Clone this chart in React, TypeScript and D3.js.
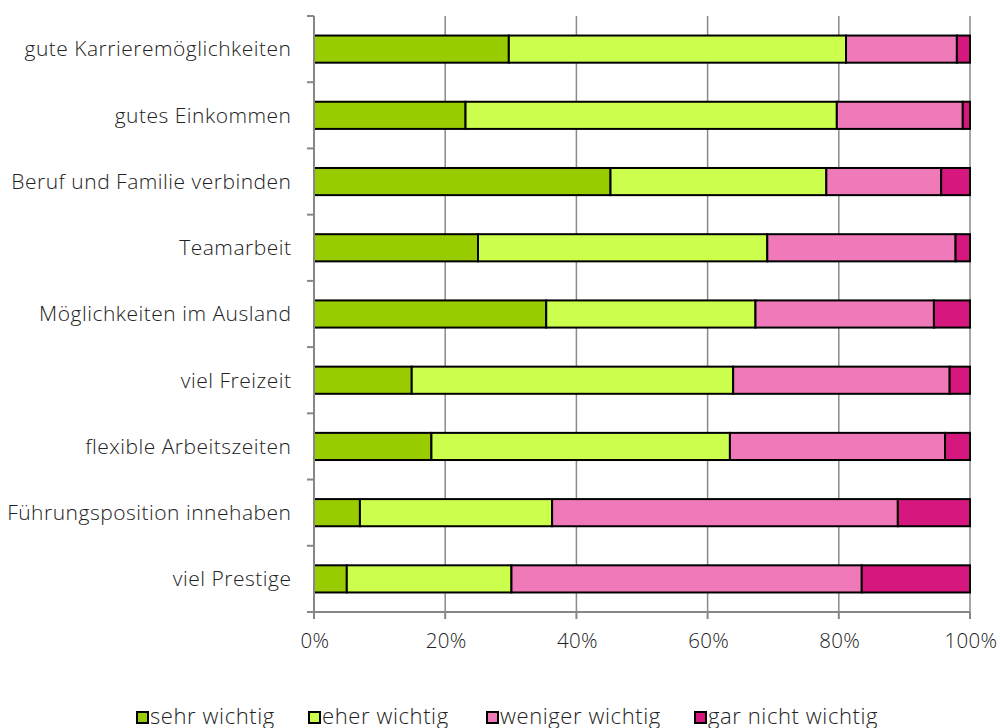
import React, { useEffect, useRef } from 'react';
import * as d3 from 'd3';

const categories = [
  'gute Karrieremöglichkeiten',
  'gutes Einkommen',
  'Beruf und Familie verbinden',
  'Teamarbeit',
  'Möglichkeiten im Ausland',
  'viel Freizeit',
  'flexible Arbeitszeiten',
  'Führungsposition innehaben',
  'viel Prestige',
];

const seriesNames = ['sehr wichtig', 'eher wichtig', 'weniger wichtig', 'gar nicht wichtig'];

// percent per category, in the order of categories
const sehrWichtig = [29.7, 23.1, 45.2, 25.0, 35.4, 14.9, 17.9, 7.0, 5.0];
const eherWichtig = [51.4, 56.6, 32.9, 44.1, 31.9, 49.0, 45.5, 29.3, 25.1];
const wenigerWichtig = [16.9, 19.2, 17.5, 28.7, 27.2, 33.0, 32.8, 52.7, 53.4];
const garNichtWichtig = [2.0, 1.1, 4.4, 2.2, 5.5, 3.1, 3.8, 11.0, 16.5];

const xTicks = [0, 20, 40, 60, 80, 100];

const colors = ['#99cc00', '#ccff4d', '#f07ab9', '#d5177e'];

const W = 1000;
const H = 728;
const FONT = '"Open Sans", Lato, sans-serif';

const App = () => {
  const svgRef = useRef<SVGSVGElement>(null);

  useEffect(() => {
    const svg = d3.select(svgRef.current);
    svg.selectAll('*').remove();

    const margin = { left: 314, right: 30, top: 16, bottom: 116 };

    const rows = categories.map((c, i) => ({
      name: c,
      'sehr wichtig': sehrWichtig[i],
      'eher wichtig': eherWichtig[i],
      'weniger wichtig': wenigerWichtig[i],
      'gar nicht wichtig': garNichtWichtig[i],
    }));

    const stacked = d3.stack().keys(seriesNames)(rows as any);

    const x = d3.scaleLinear().domain([0, 100]).range([margin.left, margin.left + 656]);
    const y = d3.scaleBand()
      .domain(categories)
      .range([margin.top, H - margin.bottom])
      .paddingInner(0.59)
      .paddingOuter(0.295);

    const band = y.step();
    const color = d3.scaleOrdinal<string, string>().domain(seriesNames).range(colors);

    // grid lines
    svg.append('g')
      .selectAll('line')
      .data(xTicks.slice(1))
      .join('line')
      .attr('x1', d => x(d))
      .attr('x2', d => x(d))
      .attr('y1', margin.top)
      .attr('y2', H - margin.bottom)
      .attr('stroke', '#8a8a8a')
      .attr('stroke-width', 1.5);

    // bars
    svg.append('g')
      .selectAll('g')
      .data(stacked)
      .join('g')
      .attr('fill', d => color(d.key))
      .selectAll('rect')
      .data(d => d)
      .join('rect')
      .attr('x', d => x(d[0]))
      .attr('y', d => y((d.data as any).name)!)
      .attr('width', d => x(d[1]) - x(d[0]))
      .attr('height', y.bandwidth())
      .attr('stroke', '#000')
      .attr('stroke-width', 2);

    // y axis line and ticks
    const yAxis = svg.append('g');
    yAxis.append('line')
      .attr('x1', margin.left).attr('x2', margin.left)
      .attr('y1', margin.top).attr('y2', H - margin.bottom)
      .attr('stroke', '#878787').attr('stroke-width', 2);
    yAxis.selectAll('line.tick')
      .data(d3.range(categories.length + 1))
      .join('line')
      .attr('class', 'tick')
      .attr('x1', margin.left - 7).attr('x2', margin.left)
      .attr('y1', i => margin.top + i * band)
      .attr('y2', i => margin.top + i * band)
      .attr('stroke', '#878787').attr('stroke-width', 2);
    yAxis.selectAll('text')
      .data(categories)
      .join('text')
      .attr('x', 291.5)
      .attr('y', d => y(d)! + y.bandwidth() / 2)
      .attr('dy', '0.35em')
      .attr('text-anchor', 'end')
      .attr('font-family', FONT)
      .attr('font-weight', 300)
      .attr('font-size', 21)
      .attr('letter-spacing', 0.5)
      .attr('fill', '#222')
      .text(d => d);

    // x axis
    const xAxisY = H - margin.bottom;
    const xAxis = svg.append('g');
    xAxis.append('line')
      .attr('x1', margin.left - 7).attr('x2', x(100))
      .attr('y1', xAxisY).attr('y2', xAxisY)
      .attr('stroke', '#878787').attr('stroke-width', 2);
    xAxis.selectAll('line.tick')
      .data(xTicks)
      .join('line')
      .attr('class', 'tick')
      .attr('x1', d => x(d)).attr('x2', d => x(d))
      .attr('y1', xAxisY).attr('y2', xAxisY + 7)
      .attr('stroke', '#878787').attr('stroke-width', 2);
    xAxis.selectAll('text')
      .data(xTicks)
      .join('text')
      .attr('x', d => x(d) + 1)
      .attr('y', 648)
      .attr('text-anchor', 'middle')
      .attr('font-family', FONT)
      .attr('font-weight', 300)
      .attr('font-size', 20.5)
      .attr('letter-spacing', 0.3)
      .attr('fill', '#222')
      .text(d => `${d}%`);

    // legend
    const legendX = [136, 308, 486, 694];
    const legend = svg.append('g');
    const item = legend.selectAll('g')
      .data(seriesNames)
      .join('g')
      .attr('transform', (d, i) => `translate(${legendX[i]},711)`);
    item.append('rect')
      .attr('x', 1).attr('y', 1)
      .attr('width', 11).attr('height', 11)
      .attr('fill', d => color(d))
      .attr('stroke', '#000')
      .attr('stroke-width', 2);
    item.append('text')
      .attr('x', 14)
      .attr('y', 12.5)
      .attr('font-family', FONT)
      .attr('font-weight', 300)
      .attr('font-size', 22)
      .attr('letter-spacing', 0.6)
      .attr('fill', '#222')
      .text(d => d);
  }, []);

  return (
    <svg
      ref={svgRef}
      width={W}
      height={H}
      style={{ position: 'absolute', left: 0, top: 0, background: '#fff' }}
    />
  );
};

export default App;
